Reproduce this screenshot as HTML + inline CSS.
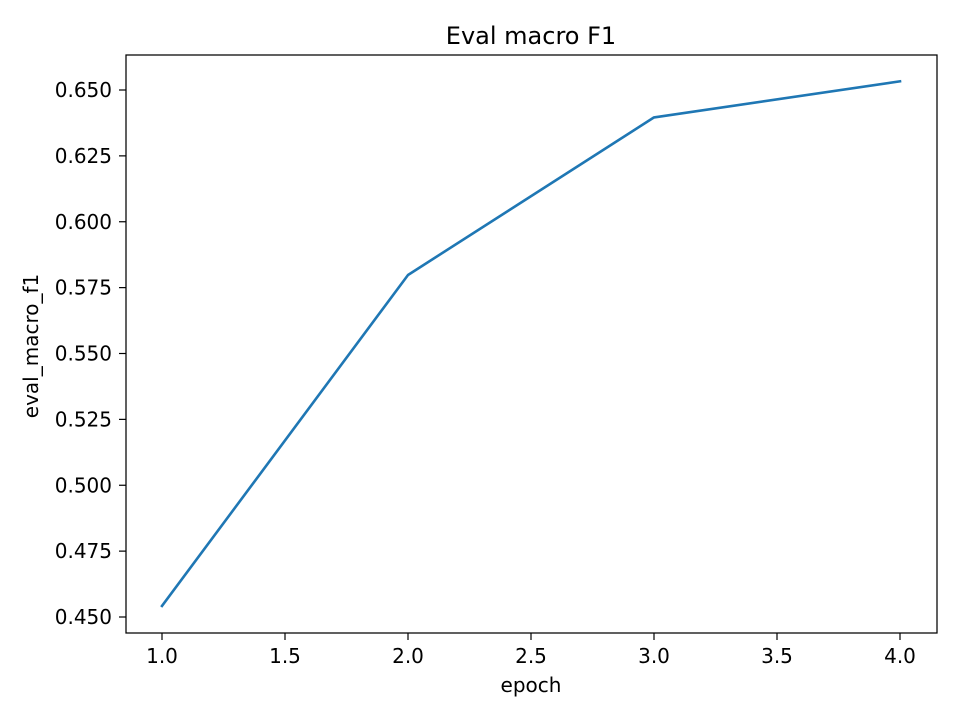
<!DOCTYPE html>
<html><head><meta charset="utf-8"><style>
html,body{margin:0;padding:0;background:#fff;}
svg{display:block;font-family:"DejaVu Sans","Liberation Sans",sans-serif;}
</style></head><body>
<svg id="chart" width="960" height="720" viewBox="0 0 960 720">
<rect x="0" y="0" width="960" height="720" fill="#fff"/>
<text x="531" y="44" text-anchor="middle" font-size="24" fill="#000">Eval macro F1</text>
<g id="xticks"></g>
<g id="yticks"></g>
<g id="series"></g>
<rect x="126" y="55" width="811" height="578" fill="none" stroke="#000" stroke-width="1.25"/>
<text x="531" y="692" text-anchor="middle" font-size="20">epoch</text>
<text transform="translate(38,346) rotate(-90)" text-anchor="middle" font-size="20">eval_macro_f1</text>
</svg>
<script>
const epochs = [1, 2, 3, 4];
const f1Values = [0.4542, 0.5798, 0.6396, 0.6533];
const xTickValues = [1.0, 1.5, 2.0, 2.5, 3.0, 3.5, 4.0];
const xTickLabels = ["1.0","1.5","2.0","2.5","3.0","3.5","4.0"];
const yTickValues = [0.450, 0.475, 0.500, 0.525, 0.550, 0.575, 0.600, 0.625, 0.650];
const yTickLabels = ["0.450","0.475","0.500","0.525","0.550","0.575","0.600","0.625","0.650"];

const NS = "http://www.w3.org/2000/svg";
function xs(v){ return 162 + (v - 1) * 246; }
function ys(v){ return 90 + (0.650 - v) * 2635; }

const xg = document.getElementById('xticks');
xTickValues.forEach((v,i)=>{
  const l = document.createElementNS(NS,'line');
  l.setAttribute('x1',xs(v));l.setAttribute('x2',xs(v));
  l.setAttribute('y1',633);l.setAttribute('y2',640);
  l.setAttribute('stroke','#000');l.setAttribute('stroke-width','1.2');
  
  
  xg.appendChild(l);
  const t = document.createElementNS(NS,'text');
  t.setAttribute('x',xs(v));t.setAttribute('y',663);
  t.setAttribute('text-anchor','middle');t.setAttribute('font-size','20');
  t.textContent = xTickLabels[i];
  
  
  xg.appendChild(t);
});
const yg = document.getElementById('yticks');
yTickValues.forEach((v,i)=>{
  const l = document.createElementNS(NS,'line');
  l.setAttribute('x1',119);l.setAttribute('x2',126);
  l.setAttribute('y1',ys(v));l.setAttribute('y2',ys(v));
  l.setAttribute('stroke','#000');l.setAttribute('stroke-width','1.2');
  
  
  yg.appendChild(l);
  const t = document.createElementNS(NS,'text');
  t.setAttribute('x',112);t.setAttribute('y',ys(v)+7);
  t.setAttribute('text-anchor','end');t.setAttribute('font-size','20');
  t.textContent = yTickLabels[i];
  
  
  yg.appendChild(t);
});
const p = document.createElementNS(NS,'polyline');
p.setAttribute('points', epochs.map((e,i)=>xs(e)+','+ys(f1Values[i])).join(' '));
p.setAttribute('fill','none');p.setAttribute('stroke','#1f77b4');p.setAttribute('stroke-width','2.6');
p.setAttribute('stroke-linejoin','round');p.setAttribute('stroke-linecap','square');


document.getElementById('series').appendChild(p);
</script>
</body></html>
